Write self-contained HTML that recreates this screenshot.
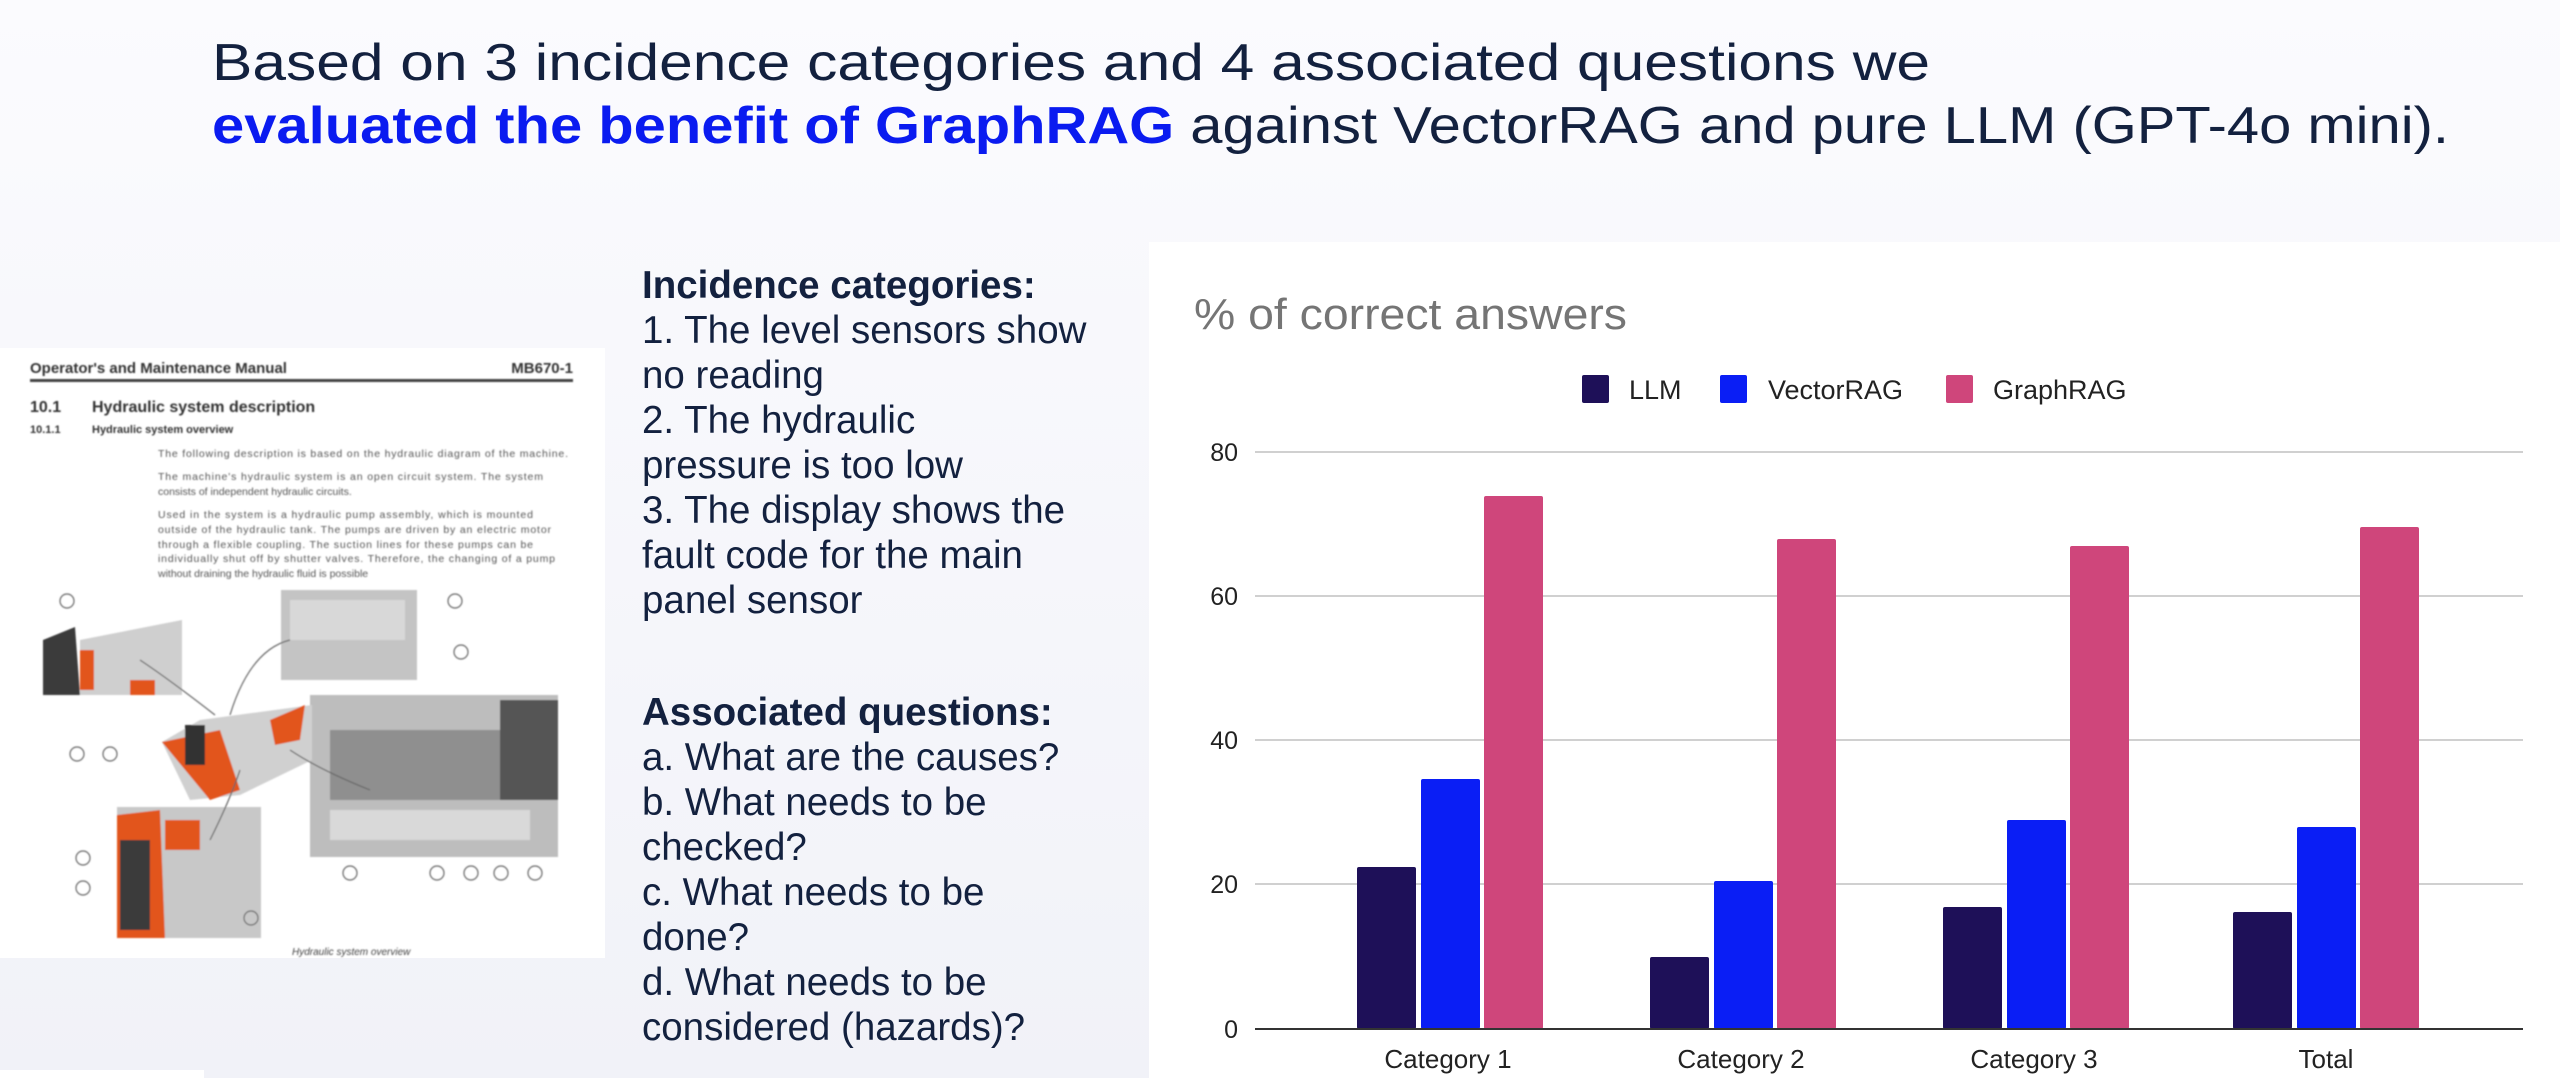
<!DOCTYPE html>
<html><head><meta charset="utf-8"><style>
html,body{margin:0;padding:0;background:#f6f7fb;}
svg{display:block;}
</style></head><body>
<svg width="2560" height="1078" viewBox="0 0 2560 1078" xmlns="http://www.w3.org/2000/svg" font-family="Liberation Sans, sans-serif">
<defs>
<linearGradient id="bg" x1="0" y1="0" x2="0" y2="1"><stop offset="0" stop-color="#fbfbfe"/><stop offset="1" stop-color="#f1f2f8"/></linearGradient>
<filter id="bl"><feGaussianBlur stdDeviation="0.8"/></filter>
</defs>
<rect width="2560" height="1078" fill="url(#bg)"/>
<text x="212" y="80" font-size="52" fill="#13213f" textLength="1718" lengthAdjust="spacingAndGlyphs">Based on 3 incidence categories and 4 associated questions we</text>
<text x="212" y="143" font-size="52" textLength="2237" lengthAdjust="spacingAndGlyphs"><tspan fill="#0a1bf0" font-weight="bold">evaluated the benefit of GraphRAG</tspan><tspan fill="#13213f"> against VectorRAG and pure LLM (GPT-4o mini).</tspan></text>

<rect x="0" y="348" width="605" height="610" fill="#ffffff"/>
<g filter="url(#bl)">
<text x="30" y="373" font-size="15" font-weight="bold" fill="#333">Operator's and Maintenance Manual</text>
<text x="573" y="373" font-size="15" font-weight="bold" fill="#333" text-anchor="end">MB670-1</text>
<rect x="30" y="379" width="543" height="3" fill="#444"/>
<text x="30" y="412" font-size="16" font-weight="bold" fill="#333">10.1</text>
<text x="92" y="412" font-size="16" font-weight="bold" fill="#333">Hydraulic system description</text>
<text x="30" y="433" font-size="11" font-weight="bold" fill="#333">10.1.1</text>
<text x="92" y="433" font-size="11" font-weight="bold" fill="#333">Hydraulic system overview</text>
<g font-size="10.5" fill="#555">
<text x="158" y="457" textLength="410">The following description is based on the hydraulic diagram of the machine.</text>
<text x="158" y="480" textLength="385">The machine's hydraulic system is an open circuit system. The system</text>
<text x="158" y="495">consists of independent hydraulic circuits.</text>
<text x="158" y="518" textLength="375">Used in the system is a hydraulic pump assembly, which is mounted</text>
<text x="158" y="533" textLength="393">outside of the hydraulic tank. The pumps are driven by an electric motor</text>
<text x="158" y="548" textLength="375">through a flexible coupling. The suction lines for these pumps can be</text>
<text x="158" y="562" textLength="397">individually shut off by shutter valves. Therefore, the changing of a pump</text>
<text x="158" y="577">without draining the hydraulic fluid is possible</text>
</g>
<rect x="281" y="590" width="136" height="90" fill="#c4c4c4"/>
<rect x="290" y="600" width="115" height="40" fill="#d8d8d8"/>
<polygon points="43,640 75,627 80,695 43,695" fill="#3a3a3a"/>
<polygon points="80,640 182,620 182,695 80,695" fill="#cfcfcf"/>
<rect x="80" y="650" width="14" height="40" fill="#e2541e"/>
<rect x="130" y="680" width="25" height="15" fill="#e2541e"/>
<rect x="310" y="695" width="248" height="162" fill="#bdbdbd"/>
<rect x="330" y="730" width="190" height="70" fill="#8f8f8f"/>
<rect x="500" y="700" width="58" height="100" fill="#555"/>
<rect x="330" y="810" width="200" height="30" fill="#d9d9d9"/>
<polygon points="162,742 200,720 312,705 312,760 240,795 190,800" fill="#d0d0d0"/>
<polygon points="162,742 220,730 240,790 210,800" fill="#e2541e"/>
<polygon points="270,720 305,705 300,740 275,745" fill="#e2541e"/>
<rect x="185" y="725" width="20" height="40" fill="#333"/>
<rect x="117" y="807" width="144" height="131" fill="#c8c8c8"/>
<polygon points="117,815 160,810 165,938 117,938" fill="#e2541e"/>
<rect x="120" y="840" width="30" height="90" fill="#3a3a3a"/>
<rect x="165" y="820" width="35" height="30" fill="#e2541e"/>
<g fill="none" stroke="#666" stroke-width="1.2">
<circle cx="67" cy="601" r="7"/><circle cx="455" cy="601" r="7"/><circle cx="461" cy="652" r="7"/>
<circle cx="77" cy="754" r="7"/><circle cx="110" cy="754" r="7"/>
<circle cx="350" cy="873" r="7"/><circle cx="437" cy="873" r="7"/><circle cx="471" cy="873" r="7"/><circle cx="501" cy="873" r="7"/><circle cx="535" cy="873" r="7"/>
<circle cx="83" cy="858" r="7"/><circle cx="83" cy="888" r="7"/><circle cx="251" cy="918" r="7"/>
<path d="M215 715 Q170 680 140 660"/><path d="M230 715 Q250 650 290 640"/><path d="M290 750 Q320 770 370 790"/><path d="M240 770 Q230 800 210 840"/>
</g>
<text x="292" y="955" font-size="10" font-style="italic" fill="#444">Hydraulic system overview</text>
</g>

<g font-size="38.5" fill="#13213f">
<text x="642" y="298" font-weight="bold">Incidence categories:</text>
<text x="642" y="343">1. The level sensors show</text>
<text x="642" y="388">no reading</text>
<text x="642" y="433">2. The hydraulic</text>
<text x="642" y="478">pressure is too low</text>
<text x="642" y="523">3. The display shows the</text>
<text x="642" y="568">fault code for the main</text>
<text x="642" y="613">panel sensor</text>
<text x="642" y="725" font-weight="bold">Associated questions:</text>
<text x="642" y="770">a. What are the causes?</text>
<text x="642" y="815">b. What needs to be</text>
<text x="642" y="860">checked?</text>
<text x="642" y="905">c. What needs to be</text>
<text x="642" y="950">done?</text>
<text x="642" y="995">d. What needs to be</text>
<text x="642" y="1040">considered (hazards)?</text>
</g>
<rect x="0" y="1070" width="204" height="8" fill="#ffffff"/>

<rect x="1149" y="242" width="1411" height="836" fill="#ffffff"/>
<text x="1194" y="329" font-size="44" fill="#757575" textLength="433" lengthAdjust="spacingAndGlyphs">% of correct answers</text>
<rect x="1582" y="375" width="27" height="28" rx="2" fill="#1e1058"/>
<text x="1629" y="399" font-size="27" fill="#222">LLM</text>
<rect x="1720" y="375" width="27" height="28" rx="2" fill="#0a1ef5"/>
<text x="1768" y="399" font-size="27" fill="#222">VectorRAG</text>
<rect x="1946" y="375" width="27" height="28" rx="2" fill="#cf467b"/>
<text x="1993" y="399" font-size="27" fill="#222">GraphRAG</text>
<g stroke="#d0d0d0" stroke-width="2">
<line x1="1255" y1="452" x2="2523" y2="452"/>
<line x1="1255" y1="596" x2="2523" y2="596"/>
<line x1="1255" y1="740" x2="2523" y2="740"/>
<line x1="1255" y1="884" x2="2523" y2="884"/>
</g>
<g font-size="25" fill="#222" text-anchor="end">
<text x="1238" y="461">80</text>
<text x="1238" y="605">60</text>
<text x="1238" y="749">40</text>
<text x="1238" y="893">20</text>
<text x="1238" y="1038">0</text>
</g>
<g>
<rect x="1357" y="867" width="59" height="162" rx="2" fill="#1e1058"/>
<rect x="1421" y="779" width="59" height="250" rx="2" fill="#0a1ef5"/>
<rect x="1484" y="496" width="59" height="533" rx="2" fill="#cf467b"/>
<rect x="1650" y="957" width="59" height="72" rx="2" fill="#1e1058"/>
<rect x="1714" y="881" width="59" height="148" rx="2" fill="#0a1ef5"/>
<rect x="1777" y="539" width="59" height="490" rx="2" fill="#cf467b"/>
<rect x="1943" y="907" width="59" height="122" rx="2" fill="#1e1058"/>
<rect x="2007" y="820" width="59" height="209" rx="2" fill="#0a1ef5"/>
<rect x="2070" y="546" width="59" height="483" rx="2" fill="#cf467b"/>
<rect x="2233" y="912" width="59" height="117" rx="2" fill="#1e1058"/>
<rect x="2297" y="827" width="59" height="202" rx="2" fill="#0a1ef5"/>
<rect x="2360" y="527" width="59" height="502" rx="2" fill="#cf467b"/>
</g>
<line x1="1255" y1="1029" x2="2523" y2="1029" stroke="#333" stroke-width="2"/>
<g font-size="26" fill="#222" text-anchor="middle">
<text x="1448" y="1068">Category 1</text>
<text x="1741" y="1068">Category 2</text>
<text x="2034" y="1068">Category 3</text>
<text x="2326" y="1068">Total</text>
</g>
</svg>
</body></html>
